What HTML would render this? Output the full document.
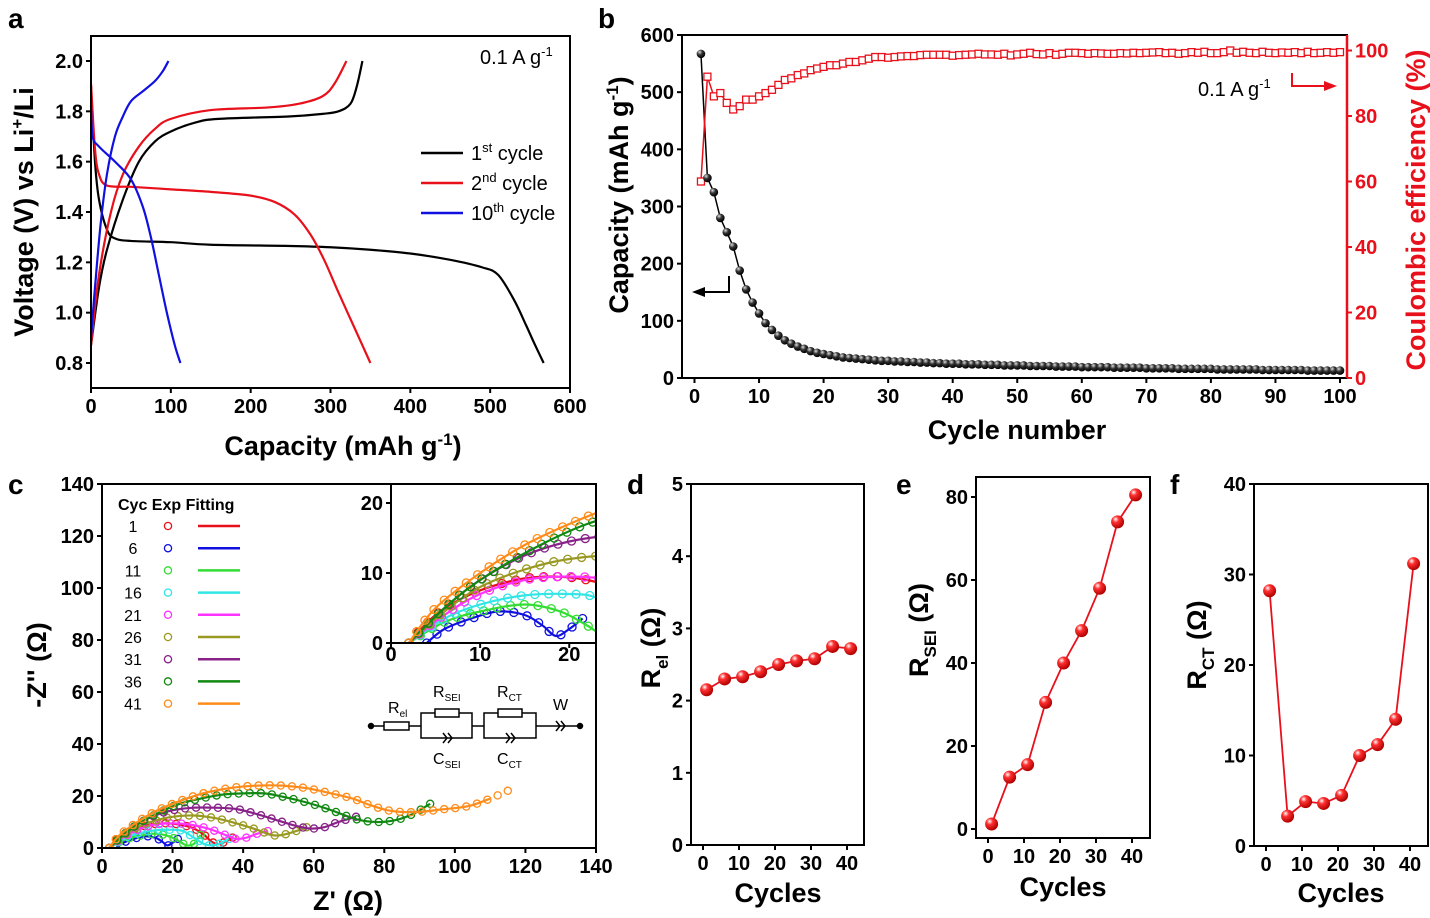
<!DOCTYPE html>
<html><head><meta charset="utf-8"><style>
html,body{margin:0;padding:0;background:#fff;}
svg{display:block;font-family:"Liberation Sans",sans-serif;}
.t{font-size:20px;font-weight:bold;}
.lab{font-size:27px;font-weight:bold;}
.pl{font-size:28px;font-weight:bold;}
</style></head><body>
<svg id="fig" width="1430" height="918" viewBox="0 0 1430 918">
<defs>
<radialGradient id="gBlack" cx="0.35" cy="0.3" r="0.7"><stop offset="0" stop-color="#ddd"/><stop offset="0.45" stop-color="#333"/><stop offset="1" stop-color="#000"/></radialGradient>
<radialGradient id="gRed" cx="0.35" cy="0.3" r="0.7"><stop offset="0" stop-color="#fff"/><stop offset="0.35" stop-color="#ff3030"/><stop offset="1" stop-color="#b00000"/></radialGradient>
<clipPath id="clipInset"><rect x="391" y="484" width="205" height="159"/></clipPath>
<clipPath id="clipC"><rect x="102" y="484" width="494" height="364"/></clipPath>
</defs>
<text class="pl" x="8" y="28">a</text>
<text class="pl" x="598" y="28">b</text>
<text class="pl" x="8" y="494">c</text>
<text class="pl" x="627" y="494">d</text>
<text class="pl" x="896" y="494">e</text>
<text class="pl" x="1170" y="494">f</text>

<text class="lab" transform="translate(33,212) rotate(-90)" text-anchor="middle">Voltage (V) vs Li<tspan dy="-10" font-size="17">+</tspan><tspan dy="10">/Li</tspan></text>
<text class="lab" x="343" y="455" text-anchor="middle">Capacity (mAh g<tspan dy="-10" font-size="17">-1</tspan><tspan dy="10">)</tspan></text>
<text x="480" y="64" font-size="20">0.1 A g<tspan dy="-8" font-size="13">-1</tspan></text>
<g>
<line x1="421" y1="153" x2="463" y2="153" stroke="#000" stroke-width="2.5"/>
<text x="471" y="160" font-size="20">1<tspan dy="-8" font-size="13">st</tspan><tspan dy="8"> cycle</tspan></text>
<line x1="421" y1="183" x2="463" y2="183" stroke="#e8101a" stroke-width="2.5"/>
<text x="471" y="190" font-size="20">2<tspan dy="-8" font-size="13">nd</tspan><tspan dy="8"> cycle</tspan></text>
<line x1="421" y1="213" x2="463" y2="213" stroke="#1010e0" stroke-width="2.5"/>
<text x="471" y="220" font-size="20">10<tspan dy="-8" font-size="13">th</tspan><tspan dy="8"> cycle</tspan></text>
</g>

<text class="lab" transform="translate(628,195) rotate(-90)" text-anchor="middle">Capacity (mAh g<tspan dy="-10" font-size="17">-1</tspan><tspan dy="10">)</tspan></text>
<text class="lab" transform="translate(1425,210) rotate(-90)" text-anchor="middle" fill="#e8101a">Coulombic efficiency (%)</text>
<text class="lab" x="1017" y="439" text-anchor="middle">Cycle number</text>
<text x="1198" y="96" font-size="20">0.1 A g<tspan dy="-8" font-size="13">-1</tspan></text>
<g><polyline points="1292,73 1292,86 1328,86" fill="none" stroke="#e8101a" stroke-width="2"/><polygon points="1337,86 1324,81 1324,91" fill="#e8101a"/></g>
<g><polyline points="729,276 729,292 700,292" fill="none" stroke="#000" stroke-width="2"/><polygon points="692,292 705,287 705,297" fill="#000"/></g>

<text class="lab" transform="translate(46,665) rotate(-90)" text-anchor="middle">-Z'' (Ω)</text>
<text class="lab" x="348" y="910" text-anchor="middle">Z' (Ω)</text>
<text x="118" y="510" font-size="16" font-weight="bold">Cyc Exp Fitting</text>

<text class="lab" x="778" y="902" text-anchor="middle">Cycles</text>
<text class="lab" x="1063" y="896" text-anchor="middle">Cycles</text>
<text class="lab" x="1341" y="902" text-anchor="middle">Cycles</text>
<text class="lab" transform="translate(660,648) rotate(-90)" text-anchor="middle">R<tspan dy="8" font-size="17">el</tspan><tspan dy="-8"> (Ω)</tspan></text>
<text class="lab" transform="translate(928,630) rotate(-90)" text-anchor="middle">R<tspan dy="8" font-size="17">SEI</tspan><tspan dy="-8"> (Ω)</tspan></text>
<text class="lab" transform="translate(1206,645) rotate(-90)" text-anchor="middle">R<tspan dy="8" font-size="17">CT</tspan><tspan dy="-8"> (Ω)</tspan></text>
<g id="layer"></g>
</svg>
<script>
const aDis1 = [[0,1.9],[5,1.6],[10,1.45],[20,1.33],[30,1.295],[50,1.285],[100,1.28],[150,1.27],[250,1.265],[300,1.26],[350,1.25],[400,1.235],[450,1.21],[490,1.18],[510,1.15],[530,1.05],[545,0.95],[555,0.88],[567,0.8]];
const aCha1 = [[0,0.87],[10,1.1],[20,1.25],[40,1.45],[60,1.6],[80,1.68],[100,1.72],[130,1.755],[160,1.77],[250,1.78],[290,1.79],[310,1.8],[325,1.83],[333,1.9],[340,2.0]];
const aDis2 = [[0,1.91],[5,1.65],[10,1.55],[20,1.505],[50,1.5],[100,1.49],[150,1.48],[200,1.465],[230,1.44],[255,1.39],[275,1.31],[292,1.21],[310,1.08],[330,0.94],[350,0.8]];
const aCha2 = [[0,0.87],[10,1.15],[25,1.4],[40,1.55],[60,1.66],[80,1.73],[100,1.77],[150,1.805],[220,1.815],[260,1.83],[290,1.86],[305,1.91],[320,2.0]];
const aDis10 = [[0,1.82],[2,1.7],[10,1.66],[30,1.6],[50,1.53],[65,1.42],[75,1.3],[85,1.15],[95,1.0],[105,0.87],[112,0.8]];
const aCha10 = [[0,0.9],[5,1.1],[12,1.35],[20,1.55],[30,1.7],[40,1.78],[50,1.84],[65,1.88],[80,1.92],[90,1.96],[97,2.0]];
const aXTicks = [0,100,200,300,400,500,600];
const aYTicks = ["0.8","1.0","1.2","1.4","1.6","1.8","2.0"];
const bCapacity = [567,350,325,280,255,230,188,155,132,113,96,84,74,66,60,55,51,47,44,42,40,38,36,35,34,33,32,31,30,30,29,29,28,28,27,27,26,26,25,25,25,24,24,24,23,23,23,22,22,22,22,21,21,21,21,20,20,20,20,19,19,19,19,19,18,18,18,18,18,17,17,17,17,17,16,16,16,16,16,16,15,15,15,15,15,15,15,14,14,14,14,14,14,14,13,13,13,13,13,13];
const bCE = [60,92,86,87,84,82,83,85,85,86,87,88,89.5,91,91.5,92.5,93,94,94.5,95,95.5,95.5,96,96.5,96.5,97,97.5,98,98,97.8,98,98.2,98.3,98.3,98.6,98.7,98.7,98.7,98.7,98.4,98.6,98.7,98.8,99,98.8,98.8,98.7,99,98.5,98.8,99,99.3,98.9,98.8,99.2,98.7,99,99.3,99.3,99.2,99,99.2,99.1,99,99,99.2,99.1,99.3,99.2,99.3,99.4,99.5,99.2,99.3,99,99.2,99.5,99.3,99.6,99.2,99.2,99.5,100,99.3,99.6,99.3,99.2,99.6,99.3,99.2,99.4,99.3,99.5,99.2,99.6,99.2,99.3,99.5,99.3,99.5];
const bXTicks = [0,10,20,30,40,50,60,70,80,90,100];
const bYTicks = [0,100,200,300,400,500,600];
const bY2Ticks = ["0","20","40","60","80","100"];
const cCycles = ["1","6","11","16","21","26","31","36","41"];
const cColors = ["#e8101a","#1010e0","#33dd33","#33e6e6","#ff33ff","#999922","#882288","#118811","#ff8c1a"];
const cZ1 = [[2,0],[5,4],[9,7],[14,9],[18,9.5],[22,9],[26,7.5],[29,5],[31,2.5],[33,1.5],[35,2.5],[37,4]];
const cZ6 = [[4,0],[6,2],[9,3.5],[12,4.5],[15,4],[17,2.5],[18.5,1],[20,2],[21.5,3.5]];
const cZ11 = [[2,0],[6,3],[10,4.5],[15,5.5],[19,4.5],[22,2.5],[24,1],[26,1.5],[27,3.5],[28,5]];
const cZ16 = [[2,0],[6,3.5],[10,5.5],[15,6.8],[20,7],[23,6.5],[26,4],[29,1.5],[31,1],[33,1.5],[36,3.5]];
const cZ21 = [[2,0],[6,4],[10,7],[15,9],[20,9.5],[25,9],[30,7.5],[35,5],[38,3.5],[41,4],[44,5.5],[47,6.5]];
const cZ26 = [[2,0],[6,4.5],[10,8],[15,10.5],[20,12],[26,12.5],[32,11.5],[38,9.5],[44,7],[48,5],[51,5],[55,6.5],[58,8]];
const cZ31 = [[2,0],[6,5],[10,9],[15,12.5],[20,14.5],[26,15.5],[32,15.5],[38,15],[44,13],[50,10.5],[55,8.5],[59,7.5],[63,8],[67,10],[72,12]];
const cZ36 = [[2,0],[6,5],[10,9],[16,13.5],[22,17],[28,19],[34,20.5],[40,21],[46,21],[52,19.5],[58,17.5],[64,15],[70,12],[74,10.5],[79,10],[84,11],[88,13],[90,14.5],[93,17]];
const cZ41 = [[2,0],[5,5],[10,10],[15,14],[20,17],[25,19.5],[30,21.5],[37,23.2],[44,24],[51,24],[58,23],[65,21],[71,19],[76,16.5],[81,14.5],[86,13.8],[91,14],[96,14.8],[101,15.5],[105,16.5],[110,19],[115,22]];
const cTicks = [0,20,40,60,80,100,120,140];
const cInsetTicks = [0,10,20];
const defCycles = [1,6,11,16,21,26,31,36,41];
const dRel = [2.15,2.3,2.33,2.4,2.5,2.55,2.58,2.75,2.72];
const eRsei = [1.2,12.5,15.5,30.5,40,47.8,58,74,80.5];
const fRct = [28.2,3.3,4.9,4.7,5.6,10,11.2,14,31.2];
const defXTicks = [0,10,20,30,40];
const dYTicks = [0,1,2,3,4,5];
const eYTicks = [0,20,40,60,80];
const fYTicks = [0,10,20,30,40];

const svg = document.getElementById('fig');
const NS = svg.namespaceURI;
const layer = document.getElementById('layer');
function mk(tag, attrs, parent){ const e=document.createElementNS(NS,tag); for(const k in attrs) e.setAttribute(k,attrs[k]); (parent||layer).appendChild(e); return e; }
function lin(d0,d1,r0,r1){ return v => r0+(v-d0)*(r1-r0)/(d1-d0); }
function smooth(p){ let d='M'+p[0][0].toFixed(1)+','+p[0][1].toFixed(1); for(let i=0;i<p.length-1;i++){ const p0=p[i-1]||p[i],p1=p[i],p2=p[i+1],p3=p[i+2]||p2; const c1=[p1[0]+(p2[0]-p0[0])/6,p1[1]+(p2[1]-p0[1])/6], c2=[p2[0]-(p3[0]-p1[0])/6,p2[1]-(p3[1]-p1[1])/6]; d+='C'+c1.join(',')+' '+c2.join(',')+' '+p2.join(','); } return d; }
function box(x0,y0,x1,y1,name,g){ const r=mk('rect',{x:x0,y:y0,width:x1-x0,height:y1-y0,fill:'none',stroke:'#000','stroke-width':2},g);


return r; }
function xAxis(ticks,sx,yb,name,g,fs){ const gg=mk('g',{},g);


ticks.forEach(t=>{ const x=sx(+t); mk('line',{x1:x,y1:yb,x2:x,y2:yb+5,stroke:'#000','stroke-width':2},gg); const tx=mk('text',{x:x,y:yb+(fs?18:25),'text-anchor':'middle','class':'t','font-size':fs||20},gg); tx.textContent=t; }); }
function yAxis(ticks,sy,xl,name,g,color,right,fs){ const gg=mk('g',{},g);


ticks.forEach(t=>{ const y=sy(parseFloat(t)); const dx=right?5:-5; mk('line',{x1:xl,y1:y,x2:xl+dx,y2:y,stroke:color||'#000','stroke-width':2},gg); const tx=mk('text',{x:right?xl+8:xl-8,y:y+7,'text-anchor':right?'start':'end','class':'t',fill:color||'#000','font-size':fs||20},gg); tx.textContent=t; }); }

{ const g=mk('g',{});


const sx=lin(0,600,91,570), sy=lin(0.8,2.0,363,61);
[[aDis1,'#000','cycle1-discharge'],[aCha1,'#000','cycle1-charge'],[aDis2,'#e8101a','cycle2-discharge'],[aCha2,'#e8101a','cycle2-charge'],[aDis10,'#1010e0','cycle10-discharge'],[aCha10,'#1010e0','cycle10-charge']].forEach(s=>{
 const p=mk('path',{d:smooth(s[0].map(q=>[sx(q[0]),sy(q[1])])),fill:'none',stroke:s[1],'stroke-width':2.2},g);
 
 
});
box(91,36,570,388,'a-plot-frame',g);
xAxis(aXTicks,sx,388,'a-x-axis',g);
yAxis(aYTicks,sy,91,'a-y-axis',g);
}
{ const g=mk('g',{});


const sx=lin(0,100,694.5,1340), sy=lin(0,600,378,35), sy2=lin(0,100,378,50.5);
const capPts=bCapacity.map((v,i)=>[sx(i+1),sy(v)]), cePts=bCE.map((v,i)=>[sx(i+1),sy2(v)]);
const l1=mk('polyline',{points:capPts.map(p=>p.join(',')).join(' '),fill:'none',stroke:'#000','stroke-width':1.5},g);


const l2=mk('polyline',{points:cePts.map(p=>p.join(',')).join(' '),fill:'none',stroke:'#e8101a','stroke-width':1.5},g);


cePts.forEach(p=>{ const r=mk('rect',{x:p[0]-3.5,y:p[1]-3.5,width:7,height:7,fill:'#fff',stroke:'#e8101a','stroke-width':1.3},g);
 
  });
capPts.forEach(p=>{ const c=mk('circle',{cx:p[0],cy:p[1],r:4.3,fill:'url(#gBlack)'},g);
 
  });
box(682,35,1347,378,'b-plot-frame',g);
mk('line',{x1:1347,y1:35,x2:1347,y2:378,stroke:'#e8101a','stroke-width':2.5},g);
xAxis(bXTicks,sx,378,'b-x-axis',g);
yAxis(bYTicks,sy,682,'b-left-y-axis',g);
yAxis(bY2Ticks,sy2,1347,'b-right-y-axis',g,'#e8101a',true);
}
{ const g=mk('g',{});


const series=[cZ1,cZ6,cZ11,cZ16,cZ21,cZ26,cZ31,cZ36,cZ41];
const sx=lin(0,140,102,596), sy=lin(0,140,848,484);
const gm=mk('g',{'clip-path':'url(#clipC)'},g);
series.forEach((s,k)=>{ const pts=s.map(q=>[sx(q[0]),sy(q[1])]);
 const p=mk('path',{d:smooth(pts.slice(0,k===8?pts.length-1:pts.length)),fill:'none',stroke:cColors[k],'stroke-width':2.2},gm);
 
 
 const full=mk('path',{d:smooth(pts),fill:'none',stroke:'none'},gm);
 const L=full.getTotalLength(), n=Math.max(2,Math.round(L/11));
 for(let j=0;j<=n;j++){ const q=full.getPointAtLength(L*j/n);
  const c=mk('circle',{cx:q.x,cy:q.y,r:3.6,fill:'none',stroke:cColors[k],'stroke-width':1.3},gm);
  
   }
});
box(102,484,596,848,'c-plot-frame',g);
xAxis(cTicks,sx,848,'c-x-axis',g);
yAxis(cTicks,sy,102,'c-y-axis',g);
cCycles.forEach((c,k)=>{ const y=526+k*22.2; const gg=mk('g',{},g);
 
 
 const t=mk('text',{x:133,y:y+6,'text-anchor':'middle','font-size':16},gg); t.textContent=c;
 mk('circle',{cx:168,cy:y,r:3.6,fill:'none',stroke:cColors[k],'stroke-width':1.3},gg);
 mk('line',{x1:198,y1:y,x2:240,y2:y,stroke:cColors[k],'stroke-width':2.5},gg); });
const ix=lin(0,23,391,596), iy=lin(0,10,643,573);
const gi=mk('g',{},g);


mk('rect',{x:391,y:484,width:205,height:159,fill:'#fff'},gi);
const gic=mk('g',{'clip-path':'url(#clipInset)'},gi);
series.forEach((s,k)=>{ const pts=s.map(q=>[ix(q[0]),iy(q[1])]);
 const p=mk('path',{d:smooth(pts),fill:'none',stroke:cColors[k],'stroke-width':2.2},gic);
 
 
 const L=p.getTotalLength(), n=Math.max(2,Math.round(L/14));
 for(let j=0;j<=n;j++){ const q=p.getPointAtLength(L*j/n);
  if(q.x>600) continue;
  const c=mk('circle',{cx:q.x,cy:q.y,r:4,fill:'none',stroke:cColors[k],'stroke-width':1.3},gic);
  
   }
});
box(391,484,596,643,'c-inset-frame',gi);
xAxis(cInsetTicks,ix,643,'c-inset-x-axis',gi,15);
yAxis(cInsetTicks,iy,391,'c-inset-y-axis',gi,null,false,15);
const gc=mk('g',{stroke:'#000','stroke-width':1.5,fill:'none'},g);


mk('line',{x1:371,y1:726,x2:421,y2:726},gc);
mk('rect',{x:384,y:722,width:25,height:8,fill:'#fff'},gc);
[[421,472,447,'SEI'],[484,536,510,'CT']].forEach(b=>{
 mk('polyline',{points:`${b[0]},726 ${b[0]},713 ${b[1]},713 ${b[1]},726`},gc);
 mk('polyline',{points:`${b[0]},726 ${b[0]},738 ${b[1]},738 ${b[1]},726`},gc);
 mk('rect',{x:b[2]-12,y:709,width:24,height:8,fill:'#fff'},gc);
 mk('polyline',{points:`${b[2]-4},733 ${b[2]},738 ${b[2]-4},743`},gc);
 mk('polyline',{points:`${b[2]+1},733 ${b[2]+5},738 ${b[2]+1},743`},gc);
});
mk('line',{x1:472,y1:726,x2:484,y2:726},gc);
mk('line',{x1:536,y1:726,x2:580,y2:726},gc);
mk('polyline',{points:'556,721 560,726 556,731'},gc);
mk('polyline',{points:'561,721 565,726 561,731'},gc);
mk('circle',{cx:371,cy:726,r:2.5,fill:'#000'},gc);
mk('circle',{cx:580,cy:726,r:2.5,fill:'#000'},gc);
[['R','el',388,713],['R','SEI',433,697],['R','CT',497,697],['W','',553,710],['C','SEI',433,764],['C','CT',497,764]].forEach(l=>{
 const t=mk('text',{x:l[2],y:l[3],'font-size':16,fill:'#000',stroke:'none'},g);
 
 
 t.textContent=l[0]; const s=mk('tspan',{dy:4,'font-size':10},t); s.textContent=l[1]; });
}
function dotPanel(vals,yt,x0,y0,x1,y1,sx,sy,name){
 const g=mk('g',{});
 
 
 const pts=vals.map((v,i)=>[sx(defCycles[i]),sy(v)]);
 const l=mk('polyline',{points:pts.map(p=>p.join(',')).join(' '),fill:'none',stroke:'#e8101a','stroke-width':1.8},g);
 
 
 pts.forEach(p=>{ const c=mk('circle',{cx:p[0],cy:p[1],r:6.5,fill:'url(#gRed)'},g);
  
   });
 box(x0,y0,x1,y1,name+'-frame',g);
 xAxis(defXTicks,sx,y1,name+'-x-axis',g);
 yAxis(yt,sy,x0,name+'-y-axis',g);
}
dotPanel(dRel,dYTicks,691,484,864,845,lin(0,40,703,847),lin(0,5,845,484),'panel-d');
dotPanel(eRsei,eYTicks,976,477,1150,838,lin(0,40,988,1132),lin(0,80,829,497),'panel-e');
dotPanel(fRct,fYTicks,1254,484,1428,846,lin(0,40,1266,1410),lin(0,40,846,484),'panel-f');
</script>
</body></html>
